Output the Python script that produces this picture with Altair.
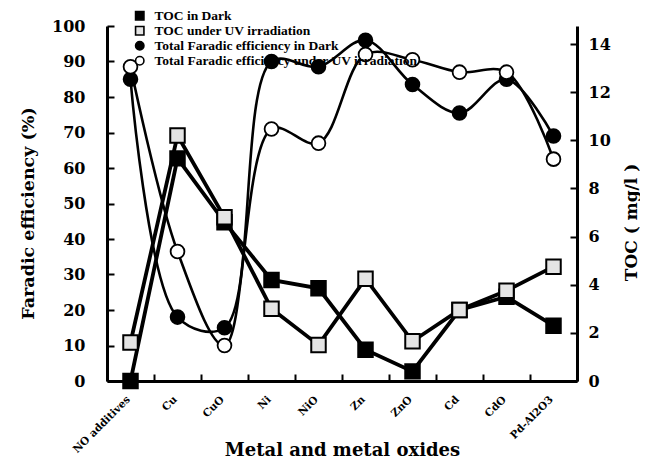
import altair as alt
import pandas as pd

categories = ["NO additives", "Cu", "CuO", "Ni", "NiO", "Zn", "ZnO", "Cd", "CdO", "Pd-Al2O3"]

series_names = [
    "TOC  in Dark",
    "TOC under UV irradiation",
    "Total Faradic efficiency  in Dark",
    "Total Faradic efficiency under UV irradiation",
]

# Faradic efficiency (%), left axis
fe_dark = [85, 18, 15, 90, 88.5, 96, 83.5, 75.5, 85, 69]
fe_uv = [88.5, 36.5, 10, 71, 67, 92, 90.5, 87, 87, 62.5]
# TOC (mg/l), right axis
toc_dark = [0, 9.25, 6.6, 4.2, 3.85, 1.3, 0.4, 2.95, 3.5, 2.3]
toc_uv = [1.6, 10.2, 6.8, 3.0, 1.5, 4.25, 1.65, 2.95, 3.75, 4.75]

fe_ticks = [0, 10, 20, 30, 40, 50, 60, 70, 80, 90, 100]
toc_ticks = [0, 2, 4, 6, 8, 10, 12, 14]


def frame(values, name):
    return pd.DataFrame({"category": categories, "value": values, "series": name})


fe_df = pd.concat([frame(fe_dark, series_names[2]), frame(fe_uv, series_names[3])])
toc_df = pd.concat([frame(toc_dark, series_names[0]), frame(toc_uv, series_names[1])])

SERIF = "DejaVu Serif"
TIMES = "Liberation Serif"

x_enc = alt.X(
    "category:N",
    sort=categories,
    scale=alt.Scale(type="band", paddingInner=0, paddingOuter=0),
    axis=alt.Axis(
        title="Metal and metal oxides",
        tickBand="extent",
        labelAngle=-45,
        labelOffset=-6,
        labelPadding=13,
        labelFont=SERIF,
        labelFontWeight="bold",
        labelFontSize=10.5,
        labelColor="black",
        ticks=False,
        grid=True,
        gridDash=[0, 348, 7, 1000],
        gridColor="black",
        gridWidth=2,
        gridOpacity=1,
        domainColor="black",
        domainWidth=3,
        titleFont=SERIF,
        titleFontSize=18,
        titleFontWeight="bold",
        titleColor="black",
        titleY=74,
        titleBaseline="alphabetic",
    ),
)

shape_scale = alt.Scale(domain=series_names, range=["square", "square", "circle", "circle"])
fill_scale = alt.Scale(domain=series_names, range=["black", "#e4e4e4", "black", "white"])
stroke_scale = alt.Scale(domain=series_names, range=["black", "black", "black", "black"])
legend = alt.Legend(
    title=None,
    orient="none",
    legendX=26,
    legendY=-17,
    labelFont=TIMES,
    labelFontWeight="bold",
    labelFontSize=13.5,
    labelColor="black",
    labelLimit=500,
    symbolSize=70,
    symbolStrokeColor="black",
    symbolStrokeWidth=1.6,
    rowPadding=-6,
    labelOffset=8,
    padding=0,
)

fe_axis = alt.Axis(
    title="Faradic efficiency (%)",
    values=fe_ticks,
    orient="left",
    ticks=False,
    grid=True,
    gridDash=[7, 1000],
    gridColor="black",
    gridWidth=2,
    gridOpacity=1,
    domainColor="black",
    domainWidth=3,
    labelFont=SERIF,
    labelFontWeight="bold",
    labelFontSize=16,
    labelColor="black",
    labelPadding=22,
    titleFont=SERIF,
    titleFontWeight="bold",
    titleFontSize=17.5,
    titleColor="black",
    titleAngle=270,
    titleX=-79,
    titleY=187,
    titleAlign="center",
    titleBaseline="middle",
)

toc_axis = alt.Axis(
    title="TOC ( mg/l )",
    values=toc_ticks,
    orient="right",
    ticks=False,
    grid=True,
    gridDash=[7, 1000],
    gridColor="black",
    gridWidth=2,
    gridOpacity=1,
    domainColor="black",
    domainWidth=3,
    labelFont=SERIF,
    labelFontWeight="bold",
    labelFontSize=16,
    labelColor="black",
    labelPadding=11,
    titleFont=SERIF,
    titleFontWeight="bold",
    titleFontSize=17,
    titleColor="black",
    titleAngle=270,
    titleX=54,
    titleY=196,
    titleAlign="center",
    titleBaseline="middle",
)

fe_y = alt.Y("value:Q", scale=alt.Scale(domain=[0, 100], nice=False, zero=True), axis=fe_axis)
toc_y = alt.Y("value:Q", scale=alt.Scale(domain=[0, 14.75], nice=False, zero=True), axis=toc_axis)


def point_encodings(y, size):
    return dict(
        x=x_enc,
        y=y,
        size=alt.value(size),
        shape=alt.Shape("series:N", scale=shape_scale, legend=legend),
        fill=alt.Fill("series:N", scale=fill_scale, legend=legend),
        stroke=alt.Stroke("series:N", scale=stroke_scale, legend=legend),
    )


fe_line = alt.Chart(fe_df).mark_line(interpolate="catmull-rom", color="black", strokeWidth=2.6).encode(
    x=x_enc, y=fe_y, detail="series:N"
)
fe_pts = alt.Chart(fe_df).mark_point(filled=True, strokeWidth=1.8, opacity=1).encode(
    **point_encodings(fe_y, 190)
)

toc_line = alt.Chart(toc_df).mark_line(color="black", strokeWidth=3.8).encode(
    x=x_enc, y=toc_y, detail="series:N"
)
toc_pts = alt.Chart(toc_df).mark_point(filled=True, strokeWidth=2, opacity=1).encode(
    **point_encodings(toc_y, 210)
)

left = alt.layer(fe_line, fe_pts)
right = alt.layer(toc_line, toc_pts)

chart = (
    alt.layer(left, right)
    .resolve_scale(y="independent")
    .properties(
        width=470,
        height=355,
        autosize=alt.AutoSizeParams(type="none"),
        padding={"left": 99, "top": 18, "right": 63, "bottom": 81},
        background="white",
    )
    .configure_view(strokeOpacity=0)
)

chart.save("out.html", embed_options={"renderer": "svg", "actions": False})
